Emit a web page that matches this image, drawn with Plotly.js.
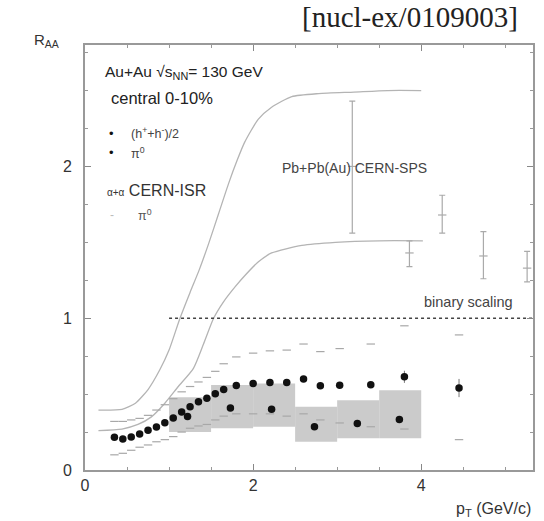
<!DOCTYPE html>
<html>
<head>
<meta charset="utf-8">
<script src="https://cdn.plot.ly/plotly-3.0.1.min.js"></script>
<style>html,body{margin:0;padding:0;background:#fff;}#chart{width:544px;height:521px;}</style>
</head>
<body>
<div id="chart"></div>
<script>
// Charged hadrons (h+ + h-)/2
const chX = [0.35,0.45,0.55,0.65,0.75,0.85,0.95,1.05,1.15,1.25,1.35,1.45,1.55,1.65,1.8,2.0,2.2,2.4,2.6,2.8,3.03,3.4,3.8,4.45];
const chY = [0.215,0.205,0.218,0.238,0.262,0.284,0.311,0.343,0.382,0.417,0.45,0.472,0.503,0.53,0.556,0.57,0.576,0.576,0.60,0.555,0.558,0.562,0.614,0.54];
const chErr = [0,0,0,0,0,0,0,0,0,0,0,0,0,0,0,0,0,0,0,0,0,0,0.04,0.06];
// Systematic band of charged hadrons (upper / lower dashes)
const chUp = [0.32,0.32,0.33,0.34,0.36,0.395,0.43,0.47,0.515,0.55,0.58,0.61,0.65,0.70,0.745,0.77,0.785,0.79,0.83,0.78,0.80,0.83,0.95,0.89];
const chLo = [0.10,0.11,0.13,0.15,0.165,0.186,0.20,0.22,0.25,0.275,0.29,0.30,0.33,0.355,0.37,0.37,0.37,0.355,0.37,0.33,0.31,0.285,0.27,0.20];
// Neutral pions
const piX = [1.22,1.73,2.22,2.73,3.24,3.74];
const piY = [0.352,0.408,0.40,0.285,0.307,0.333];
// Pi0 systematic boxes
const boxX = [1.25,1.75,2.25,2.75,3.25,3.75];
const boxLo = [0.25,0.275,0.285,0.186,0.21,0.21];
const boxHi = [0.48,0.56,0.57,0.417,0.46,0.526];
// alpha+alpha CERN-ISR
const isrX = [3.18,3.86,4.25,4.74,5.26];
const isrY = [2.0,1.43,1.68,1.41,1.33];
const isrErrUp = [0.43,0.08,0.13,0.16,0.11];
const isrErrDn = [0.44,0.09,0.12,0.15,0.09];
// Pb+Pb(Au) CERN-SPS band
const spsUpX = [0.16,0.44,0.6,0.75,0.89,1.0,1.13,1.25,1.36,1.47,1.59,1.71,1.81,1.9,2.06,2.22,2.46,2.78,3.2,3.6,4.0];
const spsUpY = [0.395,0.40,0.44,0.53,0.66,0.79,1.0,1.17,1.32,1.49,1.69,1.89,2.04,2.16,2.31,2.39,2.46,2.48,2.49,2.50,2.50];
const spsLoX = [0.16,0.44,0.63,0.79,0.95,1.11,1.29,1.41,1.53,1.65,1.79,1.9,2.06,2.22,2.58,2.98,3.5,4.02];
const spsLoY = [0.26,0.27,0.30,0.35,0.44,0.55,0.67,0.83,1.0,1.11,1.21,1.28,1.37,1.43,1.48,1.50,1.51,1.51];
// Binary scaling
const binX = [1.0,5.33];
const binY = [1,1];

const FONT = 'Liberation Sans, Arial, sans-serif';
const txt = '#333';
const bandGray = '#a8a8a8';

const traces = [
  {type:'bar', x:boxX, y:boxHi.map((h,i)=>h-boxLo[i]), base:boxLo, width:0.5,
   marker:{color:'#cbcbcb', line:{width:0}}, hoverinfo:'skip'},
  {type:'scatter', mode:'lines', x:spsUpX, y:spsUpY, line:{color:'#b4b4b4', width:1.3, shape:'spline', smoothing:0.6}},
  {type:'scatter', mode:'lines', x:spsLoX, y:spsLoY, line:{color:'#b4b4b4', width:1.3, shape:'spline', smoothing:0.6}},
  {type:'scatter', mode:'lines', x:binX, y:binY, line:{color:'#444', width:1.6, dash:'dot'}},
  {type:'scatter', mode:'markers', x:chX, y:chUp, marker:{symbol:'line-ew-open', size:6, color:bandGray, line:{color:bandGray, width:1.2}}},
  {type:'scatter', mode:'markers', x:chX, y:chLo, marker:{symbol:'line-ew-open', size:6, color:bandGray, line:{color:bandGray, width:1.2}}},
  {type:'scatter', mode:'markers', x:isrX, y:isrY,
   error_y:{type:'data', symmetric:false, array:isrErrUp, arrayminus:isrErrDn, color:'#aaa', thickness:1.2, width:3},
   marker:{symbol:'line-ew-open', size:6, color:'#aaa', line:{color:'#aaa', width:1.2}}},
  {type:'scatter', mode:'markers', x:chX, y:chY,
   error_y:{type:'data', array:chErr, color:'#777', thickness:1, width:0},
   marker:{symbol:'circle', size:7.5, color:'#111'}},
  {type:'scatter', mode:'markers', x:piX, y:piY,
   marker:{symbol:'circle', size:7.5, color:'#111'}}
];

const ann = [
  {xref:'x', yref:'y', x:0.21, y:2.62, text:'Au+Au √s<sub>NN</sub>= 130 GeV', xanchor:'left', yanchor:'middle', showarrow:false, font:{family:FONT, size:15.5, color:'#222'}},
  {xref:'x', yref:'y', x:0.29, y:2.45, text:'central 0-10%', xanchor:'left', yanchor:'middle', showarrow:false, font:{family:FONT, size:16.5, color:'#222'}},
  {xref:'x', yref:'y', x:0.32, y:2.22, text:'•', xanchor:'center', yanchor:'middle', showarrow:false, font:{family:FONT, size:13, color:'#111'}},
  {xref:'x', yref:'y', x:0.52, y:2.22, text:'(h<sup>+</sup>+h<sup>-</sup>)/2', xanchor:'left', yanchor:'middle', showarrow:false, font:{family:FONT, size:12.5, color:'#444'}},
  {xref:'x', yref:'y', x:0.32, y:2.09, text:'•', xanchor:'center', yanchor:'middle', showarrow:false, font:{family:FONT, size:13, color:'#111'}},
  {xref:'x', yref:'y', x:0.52, y:2.09, text:'π<sup>0</sup>', xanchor:'left', yanchor:'middle', showarrow:false, font:{family:FONT, size:12.5, color:'#444'}},
  {xref:'x', yref:'y', x:0.24, y:1.84, text:'<span style="font-size:10px">α+α</span> CERN-ISR', xanchor:'left', yanchor:'middle', showarrow:false, font:{family:FONT, size:16, color:'#333'}},
  {xref:'x', yref:'y', x:0.32, y:1.68, text:'-', xanchor:'center', yanchor:'middle', showarrow:false, font:{family:FONT, size:12, color:'#bbb'}},
  {xref:'x', yref:'y', x:0.61, y:1.68, text:'π<sup>0</sup>', xanchor:'left', yanchor:'middle', showarrow:false, font:{family:FONT, size:12.5, color:'#555'}},
  {xref:'x', yref:'y', x:2.32, y:1.99, text:'Pb+Pb(Au) CERN-SPS', xanchor:'left', yanchor:'middle', showarrow:false, font:{family:FONT, size:14, color:'#444'}},
  {xref:'x', yref:'y', x:5.12, y:1.105, text:'binary scaling', xanchor:'right', yanchor:'middle', showarrow:false, font:{family:FONT, size:14.5, color:'#444'}},
  {xref:'paper', yref:'paper', x:-0.085, y:1.01, text:'R<sub>AA</sub>', xanchor:'center', yanchor:'middle', showarrow:false, font:{family:FONT, size:15, color:'#333'}},
  {xref:'paper', yref:'paper', x:1.0, y:-0.065, text:'p<sub>T</sub> (GeV/c)', xanchor:'right', yanchor:'top', showarrow:false, font:{family:FONT, size:16, color:'#333'}},
  {xref:'paper', yref:'paper', x:0.972, y:1.065, text:'[nucl-ex/0109003]', xanchor:'right', yanchor:'middle', showarrow:false, font:{family:'Liberation Serif, DejaVu Serif, serif', size:29, color:'#222'}}
];

const layout = {
  width:544, height:521,
  margin:{l:85, r:11, t:45, b:51},
  paper_bgcolor:'#fff', plot_bgcolor:'#fff',
  showlegend:false,
  barmode:'overlay',
  font:{family:FONT, color:txt},
  xaxis:{range:[0,5.33], dtick:2, tick0:0, ticks:'inside', ticklen:6, tickcolor:'#888',
         showline:true, linecolor:'#999', linewidth:2, mirror:'allticks', showgrid:false, zeroline:false,
         minor:{dtick:0.5, ticks:'inside', ticklen:3, tickcolor:'#999', showgrid:false},
         tickfont:{family:FONT, size:16, color:'#333'}},
  yaxis:{range:[0,2.8], dtick:1, tick0:0, ticks:'inside', ticklen:6, tickcolor:'#888',
         showline:true, linecolor:'#999', linewidth:2, mirror:'allticks', showgrid:false, zeroline:false,
         minor:{dtick:0.25, ticks:'inside', ticklen:3, tickcolor:'#999', showgrid:false},
         tickfont:{family:FONT, size:16, color:'#333'}, ticklabelstandoff:8},
  annotations:ann
};

Plotly.newPlot('chart', traces, layout, {staticPlot:true, displayModeBar:false});
</script>
</body>
</html>
